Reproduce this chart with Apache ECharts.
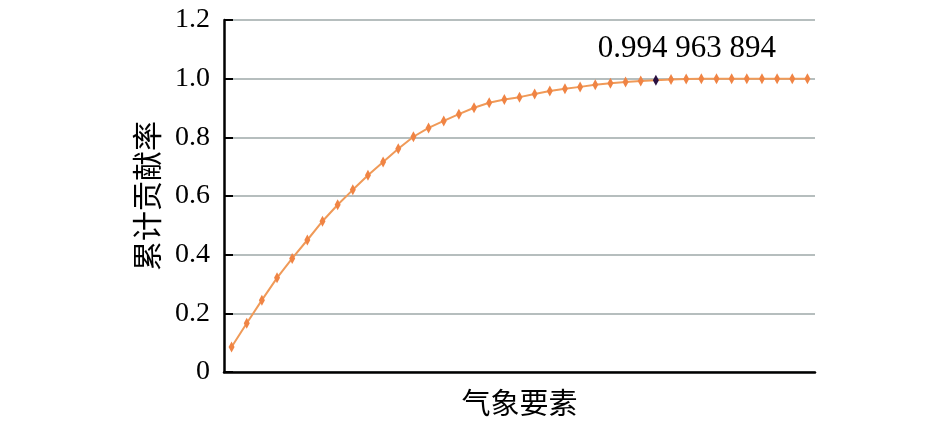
<!DOCTYPE html>
<html>
<head>
<meta charset="utf-8">
<script src="https://cdn.jsdelivr.net/npm/echarts@6/dist/echarts.min.js"></script>
<style>html,body{margin:0;padding:0;background:#fff;}#chart{width:945px;height:422px;}</style>
</head>
<body>
<div id="chart"></div>
<script>
var categories = [];
for (var i = 1; i <= 39; i++) categories.push(String(i));
var values = [0.085, 0.166, 0.245, 0.321, 0.387, 0.450, 0.514, 0.570, 0.621, 0.671,
  0.716, 0.761, 0.802, 0.832, 0.856, 0.879, 0.901, 0.918, 0.929, 0.937,
  0.948, 0.958, 0.966, 0.972, 0.979, 0.984, 0.989, 0.992, 0.994963894, 0.997,
  0.999, 0.9995, 0.9998, 0.9999, 1.0, 1.0, 1.0, 1.0, 1.0];
var highlightIndex = 28;
var highlightLabel = '0.994 963 894';
var yTicks = [0, 0.2, 0.4, 0.6, 0.8, 1.0, 1.2];

var seriesData = values.map(function (v, i) {
  if (i === highlightIndex) {
    return {
      value: v,
      itemStyle: { color: '#2a1040' },
      label: {
        show: true, position: 'top', distance: 10, offset: [31, 0],
        formatter: highlightLabel,
        fontFamily: 'Liberation Serif', fontSize: 31, color: '#000'
      }
    };
  }
  return v;
});

var chart = echarts.init(document.getElementById('chart'));
chart.setOption({
  backgroundColor: '#fff',
  animation: false,
  grid: { left: 224, right: 130, top: 20, bottom: 46 },
  xAxis: {
    type: 'category',
    data: categories,
    boundaryGap: true,
    name: '气象要素',
    nameLocation: 'middle',
    nameGap: 16,
    nameTextStyle: { fontFamily: 'Noto Sans CJK SC', fontSize: 29, color: '#000', verticalAlign: 'top' },
    axisLine: { lineStyle: { color: '#000', width: 2.5 } },
    axisTick: { show: false },
    axisLabel: { show: false }
  },
  yAxis: {
    type: 'value',
    min: 0, max: 1.2, interval: 0.2,
    name: '累计贡献率',
    nameLocation: 'middle',
    nameGap: 62,
    nameTextStyle: { fontFamily: 'Noto Sans CJK SC', fontSize: 30, color: '#000' },
    axisLine: { show: true, lineStyle: { color: '#000', width: 2.5 } },
    axisTick: { show: true, inside: true, length: 9, lineStyle: { color: '#000', width: 2 } },
    axisLabel: {
      margin: 14,
      fontFamily: 'Liberation Serif', fontSize: 28, color: '#000',
      formatter: function (v) {
        if (v === 0) return '0';
        return v.toFixed(1);
      }
    },
    splitLine: { lineStyle: { color: '#9ea8a8', width: 1.5 } }
  },
  series: [{
    type: 'line',
    data: seriesData,
    symbol: 'diamond',
    symbolSize: [6, 11],
    showAllSymbol: true,
    lineStyle: { color: '#f09a58', width: 2 },
    itemStyle: { color: '#f08444' }
  }]
});
</script>
</body>
</html>
